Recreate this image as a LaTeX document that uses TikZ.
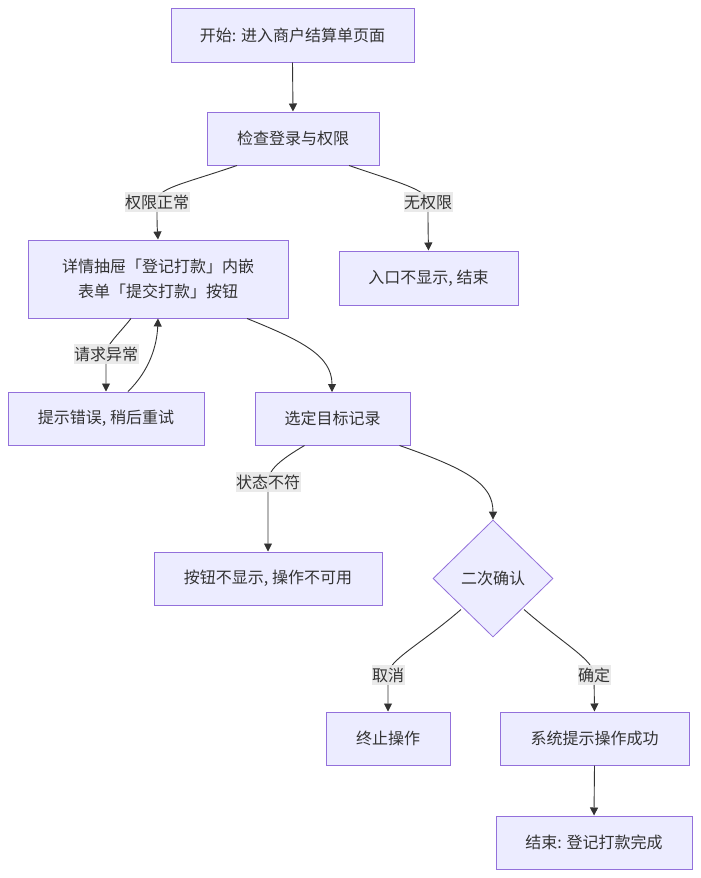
\documentclass[tikz,border=0pt]{standalone}
\usepackage{fontspec}
\setmainfont{Noto Sans CJK SC}
\usetikzlibrary{arrows.meta,shapes.geometric,calc}
\definecolor{boxfill}{HTML}{ECECFF}
\definecolor{boxline}{HTML}{9370DB}
\definecolor{txt}{HTML}{333333}
\definecolor{lblbg}{HTML}{E8E8E8}
\begin{document}
\begin{tikzpicture}[x=1pt,y=-1pt,
  box/.style={draw=boxline,fill=boxfill,line width=1pt,rectangle,inner sep=0pt,text=txt,align=center,font=\fontsize{16}{25}\selectfont},
  dec/.style={draw=boxline,fill=boxfill,line width=0.8pt,diamond,aspect=1,inner sep=0pt,minimum width=120pt,minimum height=117pt,text=txt,font=\fontsize{16}{25}\selectfont},
  conn/.style={draw=txt,line width=0.9pt,-{Triangle[length=8pt,width=8pt]}},
  elabel/.style={fill=lblbg,fill opacity=0.9,text opacity=1,text=txt,inner xsep=0.5pt,inner ysep=2.5pt,font=\fontsize{16}{18}\selectfont}]
\useasboundingbox (0,0) rectangle (701,878);
\fill[white] (0,0) rectangle (701,878);
% nodes
\node[box,minimum width=243pt,minimum height=54pt] (start) at (292.5,35) {开始: 进入商户结算单页面};
\node[box,minimum width=172pt,minimum height=53pt] (check) at (293,138.5) {检查登录与权限};
\node[box,minimum width=260pt,minimum height=78pt] (drawer) at (158,279) {详情抽屉「登记打款」内嵌\\表单「提交打款」按钮};
\node[box,minimum width=179pt,minimum height=54pt] (noperm) at (428.5,278) {入口不显示, 结束};
\node[box,minimum width=196pt,minimum height=53pt] (err) at (106,418.5) {提示错误, 稍后重试};
\node[box,minimum width=155pt,minimum height=53pt] (select) at (332.5,418.5) {选定目标记录};
\node[box,minimum width=228pt,minimum height=53pt] (hide) at (268,578.5) {按钮不显示, 操作不可用};
\node[dec] (confirm) at (493,578.5) {二次确认};
\node[box,minimum width=124pt,minimum height=53pt] (stop) at (388,738.5) {终止操作};
\node[box,minimum width=189pt,minimum height=53pt] (success) at (594.5,738.5) {系统提示操作成功};
\node[box,minimum width=196pt,minimum height=53pt] (finish) at (594,842.5) {结束: 登记打款完成};
% label positions
\coordinate (l1) at (157,202);
\coordinate (l2) at (428,202);
\coordinate (l3) at (106,354);
\coordinate (l4) at (268,482);
\coordinate (l5) at (388,675);
\coordinate (l6) at (594,675);
% connectors
\draw[conn] (start.south) -- (check.north);
\draw[conn] ($(check.south)+(-56,0)$) .. controls (180,185) and (157,188) .. (l1) .. controls (157,220) and (157,225) .. (drawer.north);
\draw[conn] ($(check.south)+(56,0)$) .. controls (400,183) and (428,190) .. (l2) .. controls (428,220) and (428,225) .. (noperm.north);
\draw[conn] ($(drawer.south)+(-27,0)$) .. controls (118,335) and (106,345) .. (l3) -- (err.north);
\draw[conn] ($(err.north)+(22,0)$) .. controls (150,370) and (157,345) .. (drawer.south);
\draw[conn] ($(drawer.south)+(89,0)$) .. controls (300,340) and (332,355) .. (332,392);
\draw[conn] ($(select.south)+(-28,0)$) .. controls (280,460) and (268,470) .. (l4) -- (hide.north);
\draw[conn] ($(select.south)+(67,0)$) .. controls (470,470) and (493,485) .. (confirm.north);
\draw[conn] ($(confirm.center)+(-32,31)$) .. controls (420,645) and (388,660) .. (l5) -- (stop.north);
\draw[conn] ($(confirm.center)+(31,31)$) .. controls (565,645) and (594,660) .. (l6) -- (success.north);
\draw[conn] (success.south) -- (finish.north);
% edge labels
\node[elabel] (t1) at (l1) {权限正常};
\node[elabel] (t2) at (l2) {无权限};
\node[elabel] (t3) at (l3) {请求异常};
\node[elabel] (t4) at (l4) {状态不符};
\node[elabel] (t5) at (l5) {取消};
\node[elabel] (t6) at (l6) {确定};
\end{tikzpicture}
\end{document}
